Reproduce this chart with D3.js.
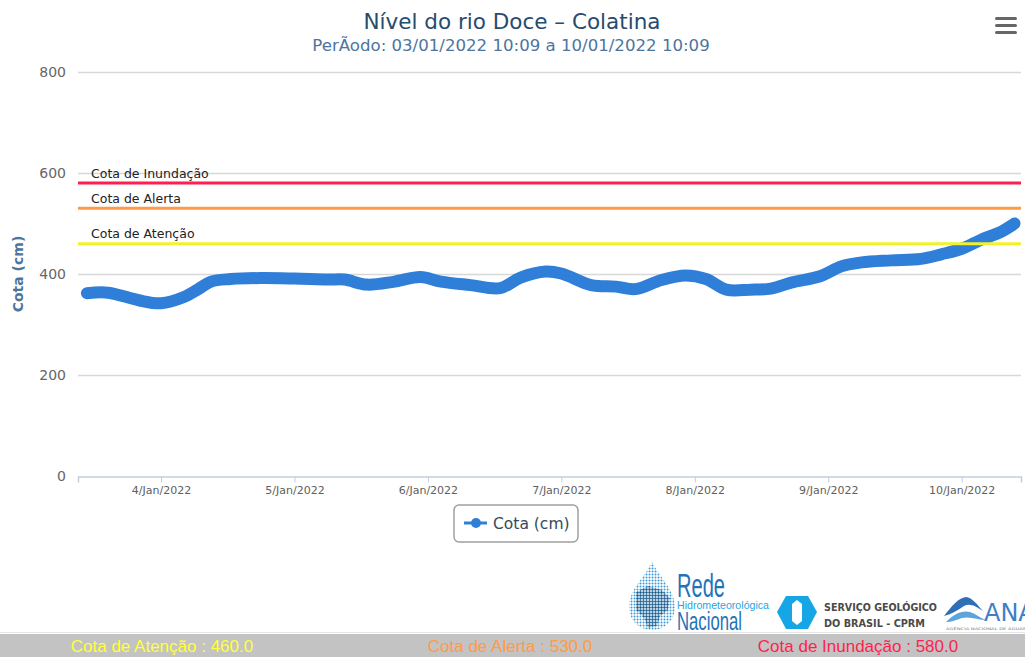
<!DOCTYPE html>
<html>
<head>
<meta charset="utf-8">
<script src="https://cdn.jsdelivr.net/npm/d3@7"></script>
<style>
  html, body { margin: 0; padding: 0; background: #fff; }
  svg { display: block; }
</style>
</head>
<body>
<script>
// leituras da cota (cm) ao longo do periodo
const times = [
  "2022-01-03T10:40", "2022-01-03T14:30", "2022-01-03T20:00", "2022-01-04T00:00",
  "2022-01-04T04:00", "2022-01-04T06:40", "2022-01-04T09:00", "2022-01-04T12:30",
  "2022-01-04T18:00", "2022-01-05T00:00", "2022-01-05T06:00", "2022-01-05T09:00",
  "2022-01-05T13:00", "2022-01-05T18:00", "2022-01-05T22:40", "2022-01-06T02:20",
  "2022-01-06T07:40", "2022-01-06T13:00", "2022-01-06T16:40", "2022-01-06T21:10",
  "2022-01-07T00:00", "2022-01-07T05:20", "2022-01-07T09:50", "2022-01-07T13:20",
  "2022-01-07T18:00", "2022-01-07T22:20", "2022-01-08T02:00", "2022-01-08T05:40",
  "2022-01-08T10:00", "2022-01-08T13:40", "2022-01-08T17:20", "2022-01-08T22:40",
  "2022-01-09T02:20", "2022-01-09T06:00", "2022-01-09T11:20", "2022-01-09T16:40",
  "2022-01-09T20:20", "2022-01-10T00:00", "2022-01-10T03:30", "2022-01-10T07:10",
  "2022-01-10T09:30"
];
const cota = [
  362, 363, 348, 342,
  354, 370, 385, 390,
  392, 391, 389, 389,
  379, 385, 394, 385,
  378, 372, 393, 405,
  401, 378, 375, 370,
  388, 397, 390, 369,
  369, 371, 383, 396,
  415, 423, 427, 430,
  439, 450, 468, 484,
  500
];

const xDomain = ["2022-01-03T09:04", "2022-01-10T10:40"];
const yTicks = [0, 200, 400, 600, 800];

const levelNames = ["Cota de Atenção", "Cota de Alerta", "Cota de Inundação"];
const levelValues = [460, 530, 580];

const levelColors = ["#f2f22a", "#ff9b45", "#ff1f4f"];
const footerColors = ["#ffff3a", "#ff9b45", "#ff1f4f"];
const seriesColor = "#2f7ed8";

var width = 1025,
  height = 657,
  plotLeft = 78,
  plotRight = 1021,
  plotTop = 72,
  plotBottom = 476;

const parseTime = d3.timeParse("%Y-%m-%dT%H:%M");
const data = times.map((t, i) => ({ date: parseTime(t), value: cota[i] }));

var svg = d3
  .select("body")
  .append("svg")
  .attr("width", width)
  .attr("height", height)
  .style("font-family", "'DejaVu Sans', Verdana, sans-serif");

var xScale = d3.scaleTime().domain(xDomain.map(parseTime)).range([plotLeft, plotRight]);
var yScale = d3.scaleLinear().domain([0, 800]).range([plotBottom, plotTop]);

// titulo
svg
  .append("text")
  .attr("x", 512)
  .attr("y", 29)
  .attr("text-anchor", "middle")
  .style("font-size", "21.5px")
  .style("fill", "#274b6d")
  .text("Nível do rio Doce – Colatina");

svg
  .append("text")
  .attr("x", 511)
  .attr("y", 51)
  .attr("text-anchor", "middle")
  .style("font-size", "16.6px")
  .style("fill", "#4d759e")
  .text("PerÃodo: 03/01/2022 10:09 a 10/01/2022 10:09");

// menu
svg
  .append("g")
  .selectAll("rect")
  .data([0, 1, 2])
  .enter()
  .append("rect")
  .attr("x", 995)
  .attr("y", (d) => 17 + d * 7)
  .attr("width", 22)
  .attr("height", 3)
  .attr("rx", 1.5)
  .style("fill", "#666");

// grade
svg
  .append("g")
  .selectAll("line")
  .data(yTicks.filter((d) => d > 0))
  .enter()
  .append("line")
  .attr("x1", plotLeft)
  .attr("x2", plotRight)
  .attr("y1", (d) => Math.round(yScale(d)) + 0.5)
  .attr("y2", (d) => Math.round(yScale(d)) + 0.5)
  .style("stroke", "#d8d8d8")
  .style("stroke-width", "1.5px");

var yAxis = d3.axisLeft(yScale).tickValues(yTicks).tickSize(0).tickPadding(12);
var gy = svg
  .append("g")
  .attr("transform", `translate(${plotLeft}, 0)`)
  .call(yAxis);
gy.select(".domain").remove();
gy.selectAll("text")
  .style("font-size", "14px")
  .style("font-family", "'DejaVu Sans', Verdana, sans-serif")
  .style("fill", "#666");

var xAxis = d3
  .axisBottom(xScale)
  .ticks(d3.timeDay.every(1))
  .tickFormat(d3.timeFormat("%-d/%b/%Y"))
  .tickSizeOuter(0)
  .tickSize(6)
  .tickPadding(4);
var gx = svg
  .append("g")
  .attr("transform", `translate(0, ${plotBottom + 0.5})`)
  .call(xAxis);
gx.select(".domain").style("stroke", "#c0d0e0").style("stroke-width", "1.5px");
gx.selectAll(".tick line").style("stroke", "#c0d0e0");
gx.selectAll("text")
  .style("font-size", "11px")
  .style("font-family", "'DejaVu Sans', Verdana, sans-serif")
  .style("fill", "#606060");

svg
  .append("text")
  .attr("transform", `translate(23, ${yScale(400)}) rotate(-90)`)
  .attr("text-anchor", "middle")
  .style("font-size", "14px")
  .style("font-weight", "bold")
  .style("fill", "#4d759e")
  .text("Cota (cm)");

// serie
var line = d3
  .line()
  .x((d) => xScale(d.date))
  .y((d) => yScale(d.value))
  .curve(d3.curveCatmullRom);

svg
  .append("path")
  .datum(data)
  .attr("d", line)
  .style("fill", "none")
  .style("stroke", seriesColor)
  .style("stroke-width", "12px")
  .style("stroke-linecap", "round")
  .style("stroke-linejoin", "round");

// linhas de cota
var levels = svg
  .append("g")
  .selectAll("g")
  .data(levelValues)
  .enter()
  .append("g");

levels
  .append("line")
  .attr("x1", plotLeft)
  .attr("x2", plotRight)
  .attr("y1", (d) => yScale(d))
  .attr("y2", (d) => yScale(d))
  .style("stroke", (d, i) => levelColors[i])
  .style("stroke-width", "3px");

levels
  .append("text")
  .attr("x", 91)
  .attr("y", (d) => yScale(d) - 5.5)
  .style("font-size", "12.5px")
  .style("fill", "#222")
  .text((d, i) => levelNames[i]);

// legenda
var legend = svg.append("g").attr("transform", "translate(454, 505)");
legend
  .append("rect")
  .attr("width", 124)
  .attr("height", 37)
  .attr("rx", 5)
  .style("fill", "#fff")
  .style("stroke", "#a0a0a0")
  .style("stroke-width", "1.5px");
legend
  .append("line")
  .attr("x1", 10)
  .attr("x2", 33)
  .attr("y1", 18)
  .attr("y2", 18)
  .style("stroke", seriesColor)
  .style("stroke-width", "3px");
legend
  .append("circle")
  .attr("cx", 22)
  .attr("cy", 18)
  .attr("r", 5)
  .style("fill", seriesColor);
legend
  .append("text")
  .attr("x", 39)
  .attr("y", 24)
  .style("font-size", "15.5px")
  .style("fill", "#34495e")
  .text("Cota (cm)");

// logos
var defs = svg.append("defs");
var dots = defs
  .append("pattern")
  .attr("id", "dots")
  .attr("width", 3)
  .attr("height", 3)
  .attr("patternUnits", "userSpaceOnUse");
dots.append("circle").attr("cx", 1.5).attr("cy", 1.5).attr("r", 1).style("fill", "#3a9ad8");
var dotsDark = defs
  .append("pattern")
  .attr("id", "dotsDark")
  .attr("width", 3)
  .attr("height", 3)
  .attr("patternUnits", "userSpaceOnUse");
dotsDark.append("circle").attr("cx", 1.5).attr("cy", 1.5).attr("r", 1.2).style("fill", "#1e5c8c");

var rede = svg.append("g");
rede
  .append("path")
  .attr("d", "M652,562 C660,578 675,590 675,607 C675,620 665,630 652,630 C639,630 629,620 629,607 C629,590 644,578 652,562 Z")
  .style("fill", "url(#dots)");
rede
  .append("path")
  .attr("d", "M636,592 L648,586 L662,590 L670,598 L668,610 L660,616 L657,626 L648,628 L644,618 L636,610 Z")
  .style("fill", "url(#dotsDark)");
rede
  .append("text")
  .attr("x", 677)
  .attr("y", 597)
  .attr("textLength", 48)
  .attr("lengthAdjust", "spacingAndGlyphs")
  .style("font-family", "'Liberation Sans Narrow', 'Liberation Sans', sans-serif")
  .style("font-size", "33px")
  .style("fill", "#2374b6")
  .text("Rede");
rede
  .append("text")
  .attr("x", 677)
  .attr("y", 609)
  .attr("textLength", 92)
  .attr("lengthAdjust", "spacingAndGlyphs")
  .style("font-family", "'Liberation Sans Narrow', 'Liberation Sans', sans-serif")
  .style("font-size", "11.5px")
  .style("fill", "#2aa5e2")
  .text("Hidrometeorológica");
rede
  .append("text")
  .attr("x", 677)
  .attr("y", 630)
  .attr("textLength", 65)
  .attr("lengthAdjust", "spacingAndGlyphs")
  .style("font-family", "'Liberation Sans Narrow', 'Liberation Sans', sans-serif")
  .style("font-size", "25px")
  .style("fill", "#2374b6")
  .text("Nacional");

var cprm = svg.append("g");
cprm
  .append("path")
  .attr("d", "M777,612 L786,596 L808,596 L817,612 L808,629 L786,629 Z")
  .style("fill", "#16a6e6");
cprm
  .append("path")
  .attr("d", "M792,604 L797,600 L802,604 L802,621 L797,625 L792,621 Z")
  .style("fill", "#fff");
cprm
  .append("text")
  .attr("x", 824)
  .attr("y", 611)
  .attr("textLength", 113)
  .attr("lengthAdjust", "spacingAndGlyphs")
  .style("font-size", "11px")
  .style("font-weight", "bold")
  .style("fill", "#4a4a4a")
  .text("SERVIÇO GEOLÓGICO");
cprm
  .append("text")
  .attr("x", 824)
  .attr("y", 627)
  .attr("textLength", 101)
  .attr("lengthAdjust", "spacingAndGlyphs")
  .style("font-size", "11px")
  .style("font-weight", "bold")
  .style("fill", "#4a4a4a")
  .text("DO BRASIL - CPRM");

var ana = svg.append("g");
ana
  .append("path")
  .attr("d", "M944,616 C952,606 958,598 966,597 C972,597 978,606 984,612 C976,606 970,603 964,606 C958,610 952,614 944,616 Z")
  .style("fill", "#2f6fb5");
ana
  .append("path")
  .attr("d", "M946,622 C954,614 962,610 970,612 C976,614 980,618 986,620 C978,620 970,616 962,618 C956,620 952,622 946,622 Z")
  .style("fill", "#5ea4dc");
ana
  .append("text")
  .attr("x", 984)
  .attr("y", 621)
  .style("font-size", "24px")
  .style("fill", "#3f7fc6")
  .text("ANA");
ana
  .append("text")
  .attr("x", 946)
  .attr("y", 629.5)
  .attr("textLength", 80)
  .attr("lengthAdjust", "spacingAndGlyphs")
  .style("font-size", "3.5px")
  .style("fill", "#777")
  .text("AGÊNCIA NACIONAL DE ÁGUAS");

// rodape
svg
  .append("line")
  .attr("x1", 0)
  .attr("x2", width)
  .attr("y1", 632.5)
  .attr("y2", 632.5)
  .style("stroke", "#e4e4e4");
svg
  .append("rect")
  .attr("x", 0)
  .attr("y", 634)
  .attr("width", width)
  .attr("height", height - 634)
  .style("fill", "#c3c3c3");

const footerX = [162, 510, 858];
svg
  .append("g")
  .selectAll("text")
  .data(levelValues)
  .enter()
  .append("text")
  .attr("x", (d, i) => footerX[i])
  .attr("y", 652)
  .attr("text-anchor", "middle")
  .style("font-family", "'Liberation Sans', Arial, sans-serif")
  .style("font-size", "17px")
  .style("fill", (d, i) => footerColors[i])
  .text((d, i) => `${levelNames[i]} : ${d.toFixed(1)}`);
</script>
</body>
</html>
